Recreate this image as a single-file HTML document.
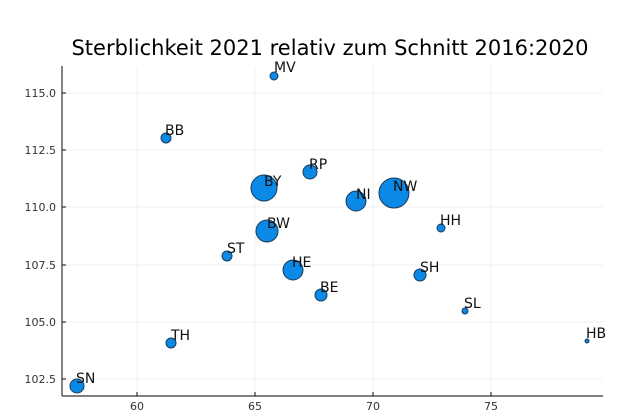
<!DOCTYPE html>
<html><head><meta charset="utf-8"><style>body{margin:0;background:#fff}</style></head><body>
<svg width="639" height="413" viewBox="0 0 639 413" xmlns="http://www.w3.org/2000/svg" font-family="DejaVu Sans, Liberation Sans, sans-serif">
<rect width="639" height="413" fill="#fff"/>
<text x="330" y="55" font-size="21" text-anchor="middle" fill="#000">Sterblichkeit 2021 relativ zum Schnitt 2016:2020</text>
<g stroke="#efefef" stroke-width="1">
<line x1="137" y1="66" x2="137" y2="396"/><line x1="255" y1="66" x2="255" y2="396"/><line x1="373" y1="66" x2="373" y2="396"/><line x1="491" y1="66" x2="491" y2="396"/>
<line x1="62" y1="93" x2="603" y2="93"/><line x1="62" y1="150" x2="603" y2="150"/><line x1="62" y1="207" x2="603" y2="207"/><line x1="62" y1="265" x2="603" y2="265"/><line x1="62" y1="322" x2="603" y2="322"/><line x1="62" y1="379" x2="603" y2="379"/>
</g>
<g stroke="#333" stroke-width="1.2">
<line x1="62" y1="66" x2="62" y2="396"/><line x1="62" y1="396" x2="603" y2="396"/>
<line x1="137" y1="396" x2="137" y2="392"/><line x1="255" y1="396" x2="255" y2="392"/><line x1="373" y1="396" x2="373" y2="392"/><line x1="491" y1="396" x2="491" y2="392"/>
<line x1="62" y1="93" x2="66" y2="93"/><line x1="62" y1="150" x2="66" y2="150"/><line x1="62" y1="207" x2="66" y2="207"/><line x1="62" y1="265" x2="66" y2="265"/><line x1="62" y1="322" x2="66" y2="322"/><line x1="62" y1="379" x2="66" y2="379"/>
</g>
<g font-size="11" fill="#333">
<g text-anchor="middle"><text x="137" y="410">60</text><text x="255" y="410">65</text><text x="373" y="410">70</text><text x="491" y="410">75</text></g>
<g text-anchor="end"><text x="56" y="97">115.0</text><text x="56" y="154">112.5</text><text x="56" y="211">110.0</text><text x="56" y="269">107.5</text><text x="56" y="326">105.0</text><text x="56" y="383">102.5</text></g>
</g>
<g fill="#0a8ae6" stroke="#1a3a5a" stroke-width="1">
<circle cx="274" cy="76" r="4"/><circle cx="166" cy="138" r="5"/><circle cx="310" cy="172" r="7"/><circle cx="264" cy="188" r="13"/><circle cx="356" cy="201" r="10"/><circle cx="394" cy="193" r="15"/><circle cx="267" cy="231" r="11"/><circle cx="441" cy="228" r="4"/><circle cx="227" cy="256" r="5"/><circle cx="293" cy="270" r="10"/><circle cx="420" cy="275" r="6"/><circle cx="321" cy="295" r="6"/><circle cx="465" cy="311" r="3"/><circle cx="171" cy="343" r="5"/><circle cx="587" cy="341" r="2"/><circle cx="77" cy="386" r="7"/>
</g>
<g font-size="14" fill="#111">
<text x="274" y="72">MV</text><text x="165" y="135">BB</text><text x="309" y="169">RP</text><text x="264" y="186">BY</text><text x="356" y="199">NI</text><text x="393" y="191">NW</text><text x="267" y="228">BW</text><text x="440" y="225">HH</text><text x="227" y="253">ST</text><text x="292" y="267">HE</text><text x="420" y="272">SH</text><text x="320" y="292">BE</text><text x="464" y="308">SL</text><text x="171" y="340">TH</text><text x="586" y="338">HB</text><text x="76" y="383">SN</text>
</g>
</svg>
</body></html>
